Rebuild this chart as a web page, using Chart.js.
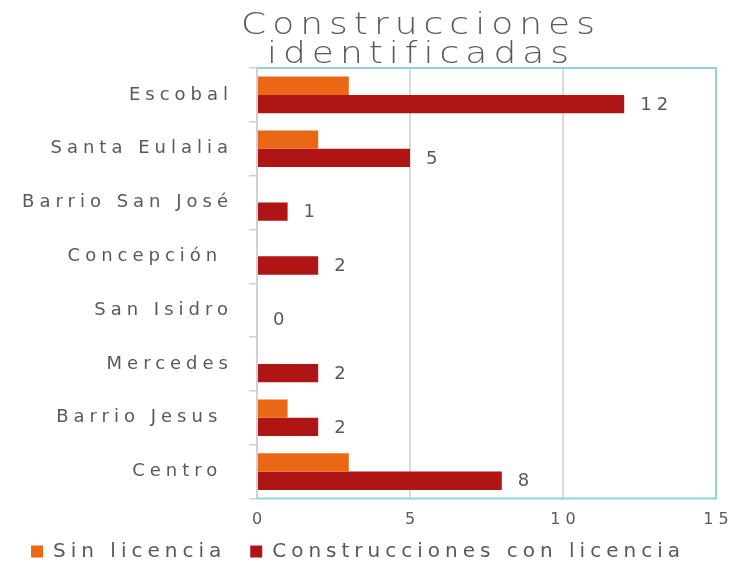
<!doctype html>
<head>
<meta charset="utf-8">
<style>
* {
    box-sizing: border-box;
    margin: 0;
    padding: 0;
}
body {
    width: 735px;
    height: 563px;
    background: white;
}
#wrap {
    position: relative;
    width: 735px;
    height: 563px;
}
</style>
</head>
<div id="wrap"><canvas></canvas></div>
<script src="https://cdn.jsdelivr.net/npm/chart.js"></script>
<script>

let categories = ['Escobal', 'Santa Eulalia', 'Barrio San José', 'Concepción ', 'San Isidro', 'Mercedes', 'Barrio Jesus ', 'Centro ']
let sin_licencia = [3, 2, 0, 0, 0, 0, 1, 3]
let con_licencia = [12, 5, 1, 2, 0, 2, 2, 8]
let title_lines = ['Construcciones', 'identificadas']
let x_ticks = [0, 5, 10, 15]

let font = "'DejaVu Sans', sans-serif"
let grey_text = '#595959'

// wide letters, like the original Century Gothic
let spacing = {
    id: 'spacing',
    beforeInit(chart) {
        chart.ctx.letterSpacing = '5px'
    },
    beforeUpdate(chart) {
        chart.ctx.letterSpacing = '5px'
    },
    beforeDraw(chart) {
        chart.ctx.letterSpacing = '5px'
    },
}

let title = {
    id: 'title_lines',
    afterDraw(chart) {
        let ctx = chart.ctx
        ctx.save()
        ctx.letterSpacing = '5px'
        ctx.fillStyle = grey_text
        ctx.font = '200 30px ' + font
        ctx.textAlign = 'center'
        ctx.textBaseline = 'alphabetic'
        ctx.translate(421, 0)
        ctx.scale(1.2, 1)
        ctx.fillText(title_lines[0], 0, 34)
        ctx.fillText(title_lines[1], 0, 63)
        ctx.restore()
    },
}

// x tick labels, placed through the x scale (the built-in ones get clipped to the axis box)
let x_labels = {
    id: 'x_labels',
    afterDraw(chart) {
        let ctx = chart.ctx
        let scale = chart.scales.x
        ctx.save()
        ctx.letterSpacing = '5px'
        ctx.fillStyle = grey_text
        ctx.font = '16px ' + font
        ctx.textAlign = 'center'
        ctx.textBaseline = 'middle'
        x_ticks.forEach(function (v) {
            ctx.fillText(String(v), scale.getPixelForValue(v) + 2.5, 520)
        })
        ctx.restore()
    },
}

let frame = {
    id: 'frame',
    afterDatasetsDraw(chart) {
        let a = chart.chartArea
        let ctx = chart.ctx
        ctx.save()
        ctx.strokeStyle = '#92d3da'
        ctx.lineWidth = 2
        ctx.beginPath()
        ctx.moveTo(a.left, a.top)
        ctx.lineTo(a.right, a.top)
        ctx.lineTo(a.right, a.bottom)
        ctx.lineTo(a.left, a.bottom)
        ctx.stroke()
        ctx.restore()
    },
}

let value_labels = {
    id: 'value_labels',
    afterDatasetsDraw(chart) {
        let ctx = chart.ctx
        let meta = chart.getDatasetMeta(1)
        ctx.save()
        ctx.letterSpacing = '5px'
        ctx.fillStyle = grey_text
        ctx.font = '18px ' + font
        ctx.textAlign = 'left'
        ctx.textBaseline = 'middle'
        meta.data.forEach(function (bar, i) {
            ctx.fillText(String(con_licencia[i]), bar.x + 16, bar.y + 1)
        })
        ctx.restore()
    },
}

let chart = new Chart(document.querySelector('canvas'), {
    type: 'bar',
    data: {
        labels: categories,
        datasets: [
            {
                label: 'Sin licencia',
                data: sin_licencia,
                backgroundColor: '#ea6716',
            },
            {
                label: 'Construcciones con licencia',
                data: con_licencia,
                backgroundColor: '#b01515',
            },
        ],
    },
    options: {
        indexAxis: 'y',
        responsive: true,
        maintainAspectRatio: false,
        animation: false,
        layout: {
            padding: { top: 68, right: 19, left: 0, bottom: -8.5 },
        },
        datasets: {
            bar: {
                categoryPercentage: 0.68,
                barPercentage: 1,
            },
        },
        scales: {
            x: {
                min: 0,
                max: 15,
                afterBuildTicks(scale) {
                    scale.ticks = x_ticks.map(v => ({ value: v }))
                },
                afterFit(scale) {
                    scale.height = 19
                },
                border: { display: false },
                grid: {
                    color: '#d9d9d9',
                    lineWidth: 2,
                    drawTicks: false,
                },
                ticks: {
                    display: false,
                },
            },
            y: {
                afterFit(scale) {
                    scale.width = 257
                },
                border: { display: true, color: '#d0d0d0', width: 2 },
                grid: {
                    offset: true,
                    drawOnChartArea: false,
                    drawTicks: true,
                    tickLength: 8,
                    color: '#d0d0d0',
                    lineWidth: 1.5,
                },
                ticks: {
                    color: grey_text,
                    padding: 16,
                    font: { family: font, size: 18 },
                },
            },
        },
        plugins: {
            legend: {
                position: 'bottom',
                labels: {
                    color: grey_text,
                    boxWidth: 12,
                    boxHeight: 12,
                    padding: 24,
                    font: { family: font, size: 20 },
                },
            },
            tooltip: { enabled: false },
        },
    },
    plugins: [spacing, frame, value_labels, x_labels, title],
})

</script>
